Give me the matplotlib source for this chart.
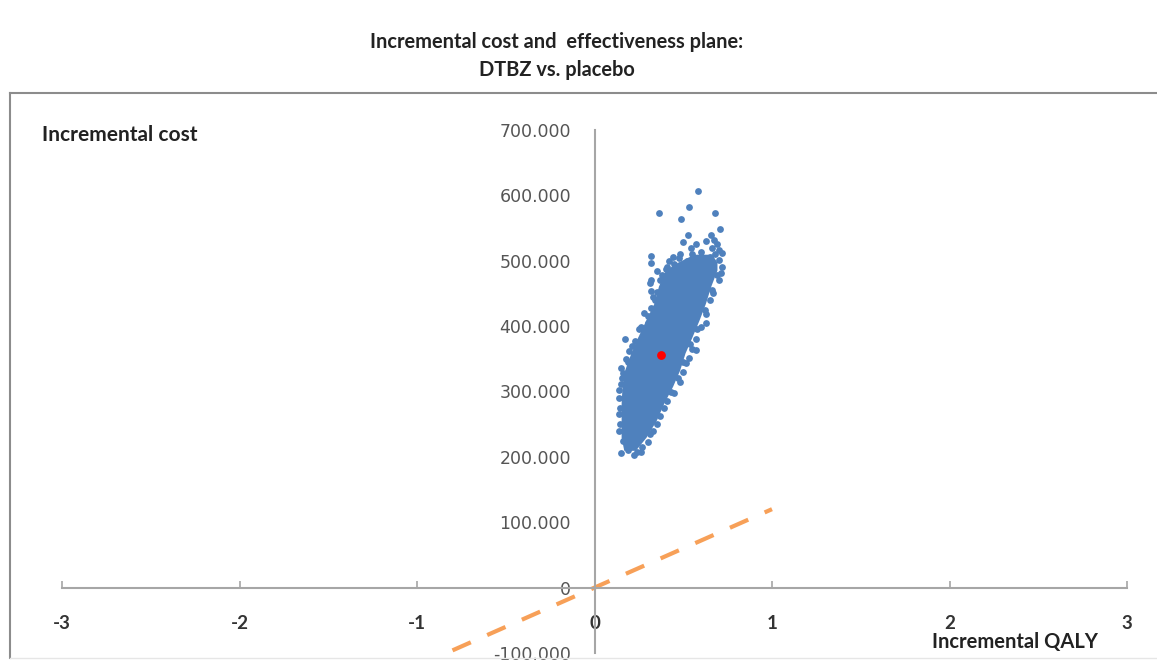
import matplotlib.pyplot as plt
from matplotlib.ticker import FuncFormatter, FixedLocator
from matplotlib.lines import Line2D

plt.rcParams['axes.unicode_minus'] = False

# incremental QALY (x) and incremental cost in thousands (y)
fringe_qaly = [0.585, 0.362, 0.53, 0.488, 0.68, 0.707, 0.525, 0.657, 0.497, 0.544,
               0.675, 0.703, 0.319, 0.319, 0.478, 0.60, 0.703, 0.31, 0.317, 0.17,
               0.15, 0.14, 0.15, 0.225, 0.63, 0.57, 0.515, 0.72, 0.72, 0.70,
               0.66, 0.62, 0.58, 0.54, 0.50, 0.47, 0.43, 0.39, 0.35, 0.31,
               0.27, 0.24, 0.19, 0.16, 0.145, 0.145, 0.155, 0.18, 0.21, 0.25,
               0.28, 0.33, 0.37, 0.41, 0.44, 0.55, 0.62, 0.50, 0.58, 0.66,
               0.65, 0.46, 0.40, 0.36, 0.30, 0.26, 0.22, 0.20, 0.32, 0.52,
               0.14, 0.14, 0.14, 0.15, 0.16, 0.19, 0.195, 0.23, 0.26, 0.30,
               0.32, 0.34, 0.35, 0.38, 0.40, 0.26, 0.30, 0.33, 0.37, 0.41,
               0.45, 0.48, 0.50, 0.53, 0.55, 0.57, 0.60, 0.63, 0.65, 0.67,
               0.69, 0.71, 0.45, 0.52, 0.56, 0.60, 0.64, 0.68, 0.48, 0.42,
               0.57, 0.63, 0.69, 0.51, 0.35]
fringe_cost = [607, 573, 582, 564, 573, 548, 540, 540, 528, 519,
               532, 517, 507, 496, 504, 514, 501, 466, 453, 380,
               336, 303, 206, 203, 405, 364, 344, 512, 490, 470,
               455, 425, 395, 372, 345, 320, 300, 275, 250, 235,
               215, 208, 210, 225, 250, 275, 320, 350, 370, 395,
               420, 445, 470, 490, 505, 510, 500, 495, 490, 520,
               505, 480, 455, 430, 405, 380, 355, 330, 470, 470,
               240, 265, 290, 312, 328, 345, 362, 378, 398, 415,
               428, 440, 452, 478, 488, 208, 222, 240, 262, 285,
               298, 315, 330, 352, 365, 380, 398, 418, 440, 450,
               478, 482, 495, 500, 498, 505, 495, 510, 510, 500,
               525, 530, 525, 488, 485]

# dense core of the cloud: left / right edge at several cost levels
core_cost = [210, 230, 257, 282, 308, 333, 359, 384, 410, 435, 461, 486, 498, 510]
core_left = [0.165, 0.15, 0.15, 0.15, 0.155, 0.17, 0.205, 0.245, 0.29, 0.335, 0.36, 0.40, 0.47, 0.56]
core_right = [0.23, 0.29, 0.35, 0.39, 0.44, 0.48, 0.51, 0.55, 0.59, 0.625, 0.655, 0.69, 0.69, 0.66]

mean_qaly = [0.377]
mean_cost = [356]

# willingness-to-pay line end points
wtp_qaly = [-0.8, 1.0]
wtp_cost = [-96, 120]

x_ticks = [-3, -2, -1, 0, 1, 2, 3]
y_ticks = [-100, 0, 100, 200, 300, 400, 500, 600, 700]

blue = '#4F81BD'
W, H = 1157, 664
fig = plt.figure(figsize=(W / 100, H / 100), dpi=100)

ax = fig.add_axes([62 / W, 11 / H, (1127 - 62) / W, (653 - 130) / H])
ax.set_xlim(-3, 3)
ax.set_ylim(-100, 700)
ax.patch.set_alpha(0)

for s in ['top', 'right']:
    ax.spines[s].set_visible(False)
ax.spines['left'].set_position(('data', 0))
ax.spines['bottom'].set_position(('data', 0))
for s in ['left', 'bottom']:
    ax.spines[s].set_color('#a6a6a6')
    ax.spines[s].set_linewidth(1.5)

ax.xaxis.set_major_locator(FixedLocator(x_ticks))
ax.yaxis.set_major_locator(FixedLocator(y_ticks))
ax.yaxis.set_major_formatter(FuncFormatter(lambda v, p: '0' if v == 0 else '{:d}.000'.format(int(v))))
ax.tick_params(axis='x', direction='in', length=5, width=1.2, color='#a6a6a6', pad=20,
               labelsize=13.5, labelcolor='#333333')
ax.tick_params(axis='y', length=0, pad=17, labelsize=12.5, labelcolor='#555555')
for lab in ax.get_xticklabels():
    lab.set_family('Lato')
    lab.set_fontweight('bold')

ax.fill_betweenx(core_cost, core_left, core_right, color=blue, lw=0, zorder=3)
ax.scatter(fringe_qaly, fringe_cost, s=24, color=blue, lw=0, zorder=3)
ax.scatter(mean_qaly, mean_cost, s=40, color='#FF0000', lw=0, zorder=4)
ax.plot(wtp_qaly, wtp_cost, color='#F79646', lw=3, dashes=(4.8, 4.3), zorder=2, alpha=0.9)

# titles and axis titles
tkw = dict(family='Lato', fontweight='bold', color='#222222')
fig.text(557 / W, 1 - 42 / H, 'Incremental cost and  effectiveness plane:', ha='center', va='center',
         fontsize=14.4, **tkw)
fig.text(557 / W, 1 - 70 / H, 'DTBZ vs. placebo', ha='center', va='center', fontsize=14.4, **tkw)
fig.text(42 / W, 1 - 135 / H, 'Incremental cost', ha='left', va='center', fontsize=15, **tkw)
fig.text(1098 / W, 1 - 642 / H, 'Incremental QALY', ha='right', va='center', fontsize=14.5, **tkw)

# chart frame
fig.add_artist(Line2D([10 / W, 1], [1 - 93 / H, 1 - 93 / H], transform=fig.transFigure,
                      color='#8c8c8c', lw=1.5))
fig.add_artist(Line2D([10 / W, 10 / W], [1 - 93 / H, 1 - 658 / H], transform=fig.transFigure,
                      color='#8c8c8c', lw=1.5))
fig.add_artist(Line2D([10 / W, 1], [1 - 658 / H, 1 - 658 / H], transform=fig.transFigure,
                      color='#e6e6e6', lw=1))

fig.savefig('out.png', dpi=100)
